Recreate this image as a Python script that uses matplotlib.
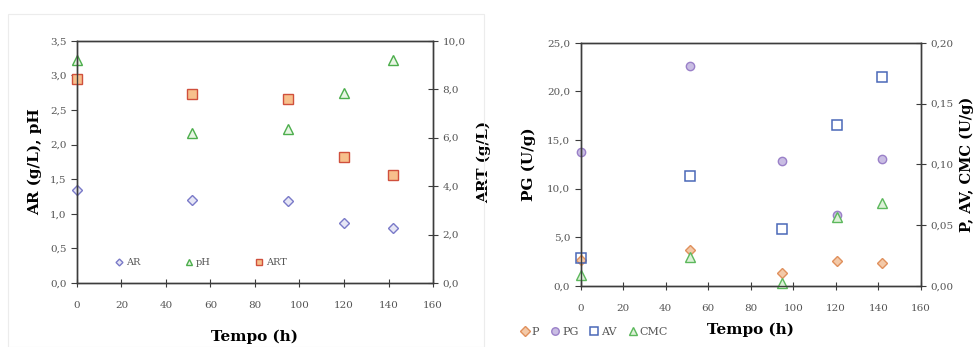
import numpy as np
import matplotlib.pyplot as plt
from matplotlib.ticker import FuncFormatter, MultipleLocator

plt.rcParams['font.family'] = ['DejaVu Serif']

# left panel data
tempo_a = [0, 51.5, 94.7, 120, 142]
ar = [1.35, 1.20, 1.19, 0.87, 0.80]
ph = [3.22, 2.17, 2.23, 2.74, 3.22]
art = [8.44, 7.81, 7.59, 5.21, 4.44]

# right panel data
tempo_b = [0, 51.5, 94.7, 120.5, 142]
pg = [13.77, 22.6, 12.88, 7.3, 13.0]
p = [0.021, 0.0296, 0.0104, 0.0205, 0.0192]
av = [0.0227, 0.0907, 0.0466, 0.132, 0.172]
cmc = [0.0088, 0.024, 0.0027, 0.0564, 0.068]

xticks = [0, 20, 40, 60, 80, 100, 120, 140, 160]

def comma(dec):
    return FuncFormatter(lambda v, pos: f"{v:.{dec}f}".replace('.', ','))

spine_c = '#3c3c3c'
tick_c = '#555555'

def style(ax, ax2):
    for a in (ax, ax2):
        for s in a.spines.values():
            s.set_color(spine_c)
            s.set_linewidth(1.0)
        a.tick_params(labelsize=7.5, colors=spine_c, labelcolor=tick_c, length=4)
    ax.tick_params(axis='x', direction='inout', length=6, pad=10)
    ax.tick_params(axis='y', direction='out', length=4)
    ax2.tick_params(axis='y', direction='inout', length=7)
    ax.set_xlim(0, 160)
    ax.set_xticks(xticks)

fig = plt.figure(figsize=(9.77, 3.47), dpi=100)

# ---------- left panel ----------
ax1 = fig.add_axes([0.0788, 0.1844, 0.3644, 0.6983])
ax1b = ax1.twinx()
style(ax1, ax1b)
ax1.set_ylim(0, 3.5)
ax1.yaxis.set_major_locator(MultipleLocator(0.5))
ax1.yaxis.set_major_formatter(comma(1))
ax1b.set_ylim(0, 10)
ax1b.yaxis.set_major_locator(MultipleLocator(2))
ax1b.yaxis.set_major_formatter(comma(1))

h1, = ax1.plot(tempo_a, ar, 'D', ls='none', ms=5, mfc='#e6e6f5', mec='#7a7ac8', mew=1, label='AR', clip_on=False)
h2, = ax1.plot(tempo_a, ph, '^', ls='none', ms=6.5, mfc='#e8f5e4', mec='#4cae4c', mew=1, label='pH', clip_on=False)
h3, = ax1b.plot(tempo_a, art, 's', ls='none', ms=7, mfc='#f7c08c', mec='#d0503c', mew=1, label='ART', clip_on=False)

ax1.set_xlabel('Tempo (h)', fontsize=11, fontweight='bold', labelpad=14)
ax1.set_ylabel('AR (g/L), pH', fontsize=11, fontweight='bold', labelpad=6)
ax1b.set_ylabel('ART (g/L)', fontsize=11, fontweight='bold', labelpad=8)

ax1.legend(handles=[h1, h2, h3], loc='lower left', bbox_to_anchor=(0.08, 0.03), ncol=3,
           frameon=False, fontsize=7, handletextpad=0.2, columnspacing=4.5,
           markerscale=0.7, handlelength=1.0, labelcolor='#555555')

# faint chart-area frame
fig.patches.append(plt.Rectangle((0.008, 0.0), 0.487, 0.96, transform=fig.transFigure,
                                 fill=False, ec='#ececec', lw=0.8))

# ---------- right panel ----------
ax2 = fig.add_axes([0.5944, 0.1758, 0.348, 0.7012])
ax2b = ax2.twinx()
style(ax2, ax2b)
ax2.set_ylim(0, 25)
ax2.yaxis.set_major_locator(MultipleLocator(5))
ax2.yaxis.set_major_formatter(comma(1))
ax2b.set_ylim(0, 0.20)
ax2b.yaxis.set_major_locator(MultipleLocator(0.05))
ax2b.yaxis.set_major_formatter(comma(2))

g2, = ax2.plot(tempo_b, pg, 'o', ls='none', ms=6, mfc='#c9bde3', mec='#9a80c8', mew=1, label='PG', clip_on=False)
g1, = ax2b.plot(tempo_b, p, 'D', ls='none', ms=5.5, mfc='#f3c9a8', mec='#e0905c', mew=1, label='P', clip_on=False)
g3, = ax2b.plot(tempo_b, av, 's', ls='none', ms=7, mfc='none', mec='#4a68b8', mew=1.1, label='AV', clip_on=False)
g4, = ax2b.plot(tempo_b, cmc, '^', ls='none', ms=7, mfc='#ddf0d8', mec='#5cb85c', mew=1, label='CMC', clip_on=False)

ax2.set_xlabel('Tempo (h)', fontsize=11, fontweight='bold', labelpad=7)
ax2.set_ylabel('PG (U/g)', fontsize=11, fontweight='bold', labelpad=8)
ax2b.set_ylabel('P, AV, CMC (U/g)', fontsize=10.5, fontweight='bold', labelpad=4)

fig.legend(handles=[g1, g2, g3, g4], loc='lower left', bbox_to_anchor=(0.522, 0.0), ncol=4,
           frameon=False, fontsize=8, handletextpad=0.15, columnspacing=1.0,
           markerscale=0.9, handlelength=0.9, labelcolor='#555555')

fig.savefig('out.png', dpi=100)
